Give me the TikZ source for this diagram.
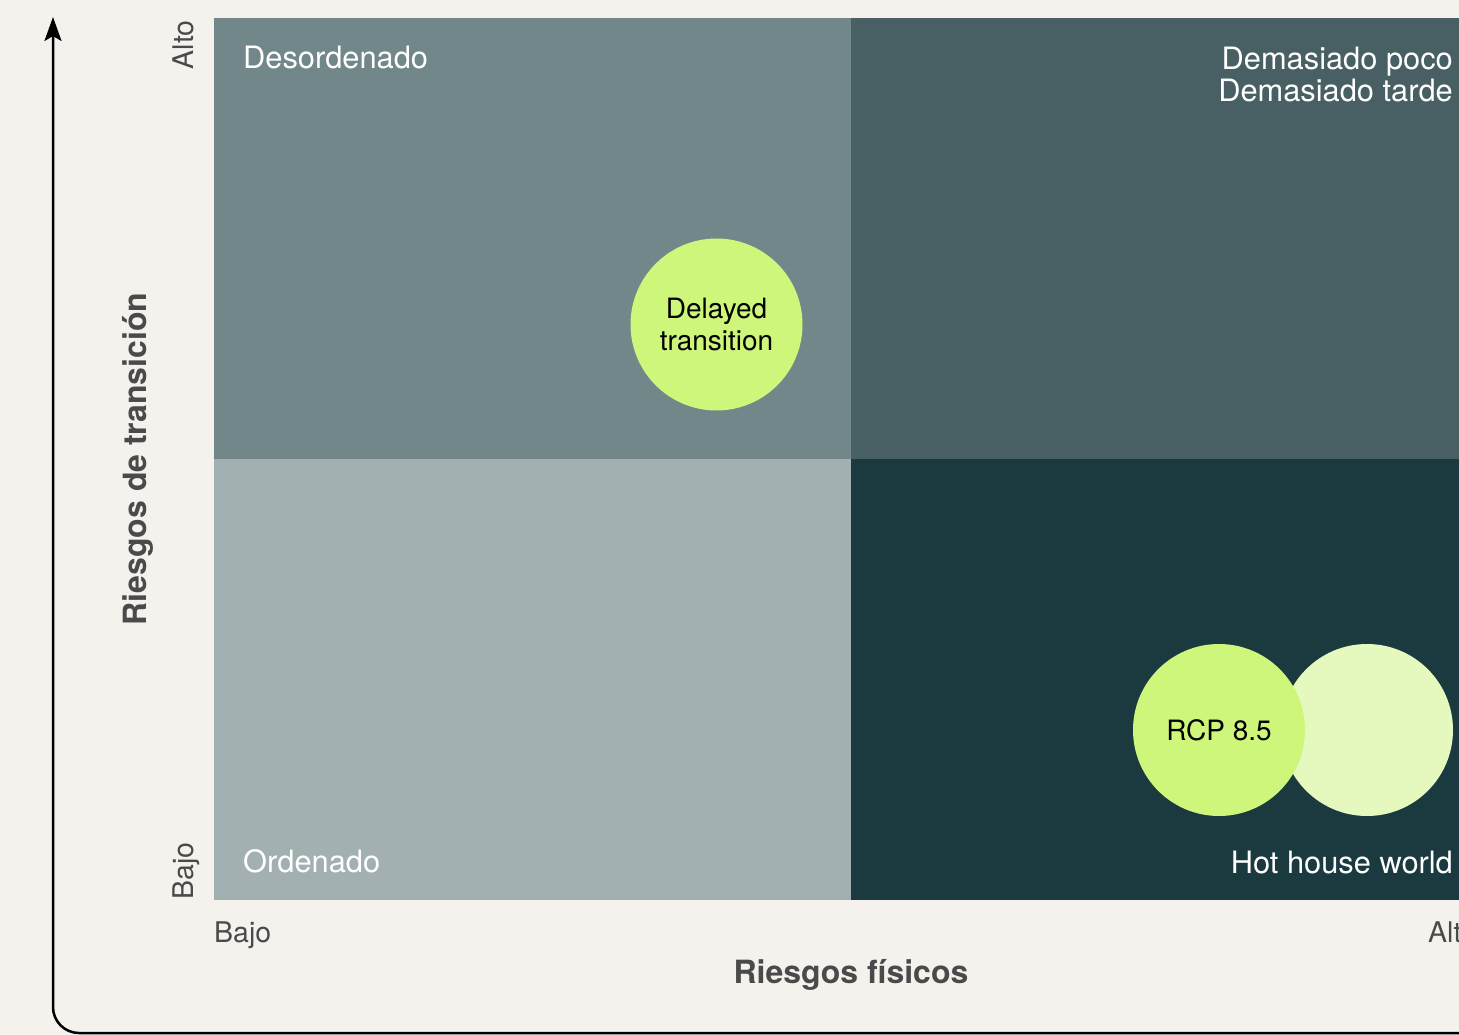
\documentclass[tikz,border=0pt]{standalone}
\usepackage{fontspec}
\setmainfont{TeX Gyre Heros}
\usetikzlibrary{arrows.meta}
\definecolor{bgc}{HTML}{F5F2ED}
\definecolor{qtl}{HTML}{728789}
\definecolor{qtr}{HTML}{486064}
\definecolor{qbl}{HTML}{A2B0B1}
\definecolor{qbr}{HTML}{1A3A40}
\definecolor{lime}{HTML}{CEF67A}
\definecolor{limelight}{HTML}{E5F9BE}
\definecolor{txtgray}{HTML}{4A4A4A}
\tikzset{
  qlabel/.style={text=white, inner sep=0pt, font=\fontsize{30.8}{32}\selectfont},
  ticklabel/.style={text=txtgray, inner sep=0pt, font=\fontsize{28.5}{30}\selectfont},
  axlabel/.style={text=txtgray, inner sep=0pt, font=\fontsize{32}{34}\selectfont\bfseries},
  bubble/.style={circle, fill=lime, minimum size=172pt, inner sep=0pt, text=black, align=center, font=\fontsize{28}{32}\selectfont},
  axisline/.style={line width=2.5pt, draw=black, rounded corners=26pt, -{Stealth[length=24pt,width=17pt,inset=5pt]}}
}
\begin{document}
\begin{tikzpicture}[x=1pt,y=-1pt]
\fill[bgc] (0,0) rectangle (1459,1035);
\useasboundingbox (0,0) rectangle (1459,1035);
\clip (0,0) rectangle (1459,1035);
% quadrants
\fill[qtl] (214,18) rectangle (851,459);
\fill[qtr] (851,18) rectangle (1470,459);
\fill[qbl] (214,459) rectangle (851,900);
\fill[qbr] (851,459) rectangle (1470,900);
% quadrant labels
\node[qlabel, anchor=base west] (desord) at (243,69) {Desordenado};
\node[qlabel, anchor=base east] (tr1) at (1453,70) {Demasiado poco};
\node[qlabel, anchor=base east] (tr2) at (1453,102) {Demasiado tarde};
\node[qlabel, anchor=base west] (orden) at (243,872) {Ordenado};
\node[qlabel, anchor=base east] (hot) at (1453,873) {Hot house world};
% bubbles
\node[bubble] (delayed) at (716.5,324.5) {Delayed\\transition};
\node[bubble, fill=limelight] (ghost) at (1367,730) {};
\node[bubble] (rcp) at (1219,730) {RCP 8.5};
% tick labels
\node[ticklabel, rotate=90, anchor=base east] (yhigh) at (193,20) {Alto};
\node[ticklabel, rotate=90, anchor=base west] (ylow) at (193,900) {Bajo};
\node[ticklabel, anchor=base west] (xlow) at (214,942) {Bajo};
\node[ticklabel, anchor=base west] (xhigh) at (1428,942) {Alto};
% axis labels
\node[axlabel, anchor=base] (xlab) at (851,983) {Riesgos físicos};
\node[axlabel, rotate=90, anchor=base] (ylab) at (146,459) {Riesgos de transición};
% axes
\coordinate (axEnd) at (1470,1033);
\coordinate (axCorner) at (53,1033);
\coordinate (axTop) at (53,17);
\draw[axisline] (axEnd) -- (axCorner) -- (axTop);
\end{tikzpicture}
\end{document}
